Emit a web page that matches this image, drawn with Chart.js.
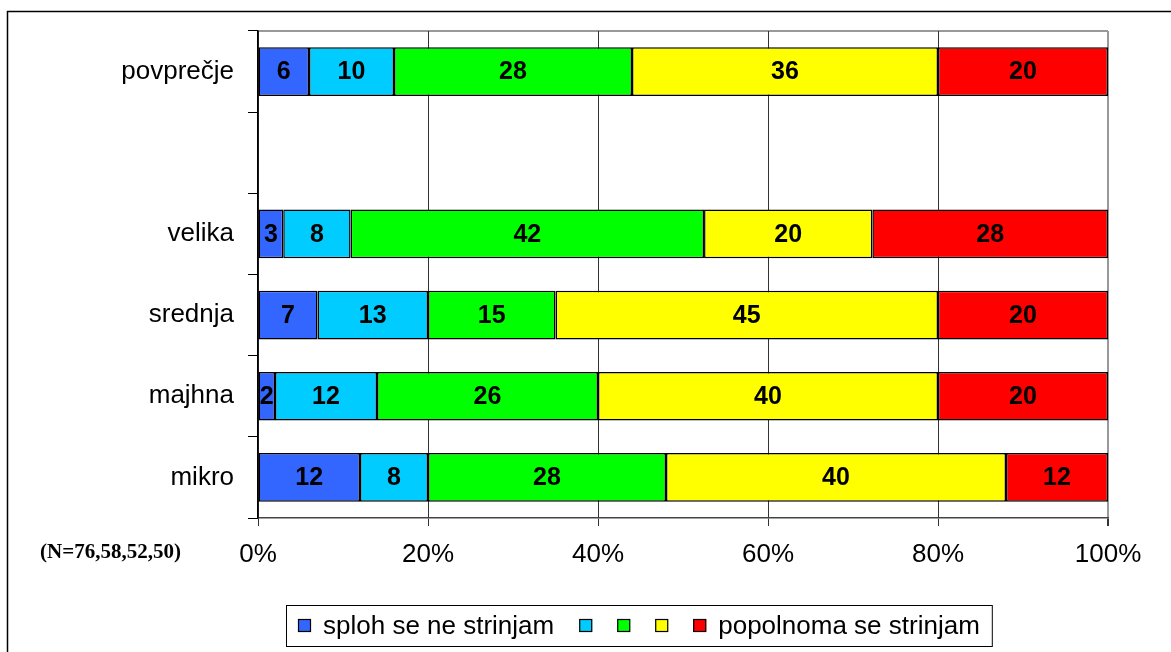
<!DOCTYPE html>
<html>
<head>
<meta charset="utf-8">
<script src="https://cdn.jsdelivr.net/npm/chart.js@4"></script>
<style>
  html, body { margin: 0; padding: 0; background: #fff; }
  #wrap { width: 1171px; height: 652px; }
</style>
</head>
<body>
<div id="wrap"><canvas id="graf" width="1171" height="652"></canvas></div>
<script>
// podatki (odstotki po velikosti podjetja)
const kategorije = ['povprečje', '', 'velika', 'srednja', 'majhna', 'mikro'];
const oznakeSerij = ['sploh se ne strinjam', '', '', '', 'popolnoma se strinjam'];
const barve = ['#3366FF', '#00CCFF', '#00FF00', '#FFFF00', '#FF0000'];
const sploh = [6, null, 3, 7, 2, 12];
const druga = [10, null, 8, 13, 12, 8];
const tretja = [28, null, 42, 15, 26, 28];
const cetrta = [36, null, 20, 45, 40, 40];
const popolnoma = [20, null, 28, 20, 20, 12];
const oznakeX = ['0%', '20%', '40%', '60%', '80%', '100%'];
const opomba = '(N=76,58,52,50)';

const serije = [sploh, druga, tretja, cetrta, popolnoma];
const FONT = "'Liberation Sans', Arial, sans-serif";

// 100 % zlozeni stolpci: vsako vrstico normiramo na vsoto
const vsote = kategorije.map((k, i) => serije.reduce((s, a) => s + (a[i] || 0), 0));
const datasets = serije.map((arr, si) => ({
    label: oznakeSerij[si],
    data: arr.map((v, i) => v == null ? null : v / vsote[i] * 100),
    surove: arr,
    backgroundColor: barve[si],
    borderColor: '#000',
    borderWidth: 1.5,
    borderSkipped: false,
    barPercentage: 0.6,
    categoryPercentage: 1
}));

const okvir = {
    id: 'okvir',
    beforeDraw(chart) {
        const ctx = chart.ctx;
        const a = chart.chartArea;
        ctx.save();
        ctx.fillStyle = '#fff';
        ctx.fillRect(0, 0, chart.width, chart.height);
        // zunanji okvir
        ctx.strokeStyle = '#000';
        ctx.lineWidth = 1.5;
        ctx.beginPath();
        ctx.moveTo(7.5, chart.height + 2);
        ctx.lineTo(7.5, 11.5);
        ctx.lineTo(chart.width + 2, 11.5);
        ctx.stroke();
        // zgornji rob risalne ploskve
        ctx.strokeStyle = '#999';
        ctx.lineWidth = 2;
        ctx.beginPath();
        ctx.moveTo(a.left, a.top);
        ctx.lineTo(a.right, a.top);
        ctx.stroke();
        ctx.restore();
    },
    afterDatasetsDraw(chart) {
        const ctx = chart.ctx;
        ctx.save();
        ctx.font = 'bold 25px ' + FONT;
        ctx.fillStyle = '#000';
        ctx.textAlign = 'center';
        ctx.textBaseline = 'middle';
        chart.data.datasets.forEach((ds, di) => {
            const meta = chart.getDatasetMeta(di);
            meta.data.forEach((el, i) => {
                const v = ds.surove[i];
                if (v == null) return;
                const p = el.getCenterPoint();
                ctx.fillText(String(v), p.x, p.y + 1);
            });
        });
        ctx.restore();
    },
    afterDraw(chart) {
        const ctx = chart.ctx;
        ctx.save();
        // opomba
        ctx.font = 'bold 21px "Liberation Serif", "Times New Roman", serif';
        ctx.fillStyle = '#000';
        ctx.textAlign = 'left';
        ctx.textBaseline = 'middle';
        ctx.fillText(opomba, 40, 553);

        // legenda
        ctx.font = '26px ' + FONT;
        const kv = 13, razmik = 12, presledek = 25, rob = 12;
        let sirina = 0;
        oznakeSerij.forEach((t, i) => {
            sirina += kv;
            if (t) sirina += razmik + ctx.measureText(t).width;
            if (i < oznakeSerij.length - 1) sirina += presledek;
        });
        const lw = sirina + 2 * rob;
        const lx = Math.round(638.5 - lw / 2);
        const ly = 605, lh = 41;
        ctx.strokeStyle = '#000';
        ctx.lineWidth = 1;
        ctx.strokeRect(lx + 0.5, ly + 0.5, lw, lh);
        let x = lx + rob;
        const sy = ly + lh / 2;
        oznakeSerij.forEach((t, i) => {
            ctx.fillStyle = barve[i];
            ctx.fillRect(x, sy - kv / 2, kv, kv);
            ctx.strokeStyle = '#000';
            ctx.lineWidth = 1.2;
            ctx.strokeRect(x + 0.5, sy - kv / 2 + 0.5, kv - 1, kv - 1);
            x += kv;
            if (t) {
                x += razmik;
                ctx.fillStyle = '#000';
                ctx.fillText(t, x, sy + 1);
                x += ctx.measureText(t).width;
            }
            x += presledek;
        });
        ctx.restore();
    }
};

new Chart(document.getElementById('graf'), {
    type: 'bar',
    data: { labels: kategorije, datasets: datasets },
    plugins: [okvir],
    options: {
        indexAxis: 'y',
        responsive: false,
        animation: false,
        layout: { padding: { left: 0, right: 63, top: 31, bottom: 0 } },
        plugins: {
            legend: { display: false },
            tooltip: { enabled: false }
        },
        scales: {
            x: {
                stacked: true,
                min: 0,
                max: 100,
                afterFit(s) { s.height = 134; },
                afterBuildTicks(s) { s.ticks = oznakeX.map((t, i) => ({ value: i * 20 })); },
                ticks: {
                    callback: (v, i) => oznakeX[i],
                    font: { family: FONT, size: 26 },
                    color: '#000',
                    padding: 13,
                    maxRotation: 0
                },
                grid: {
                    color: c => (c.tick && c.tick.value === 100) ? '#999' : '#333',
                    lineWidth: c => (c.tick && c.tick.value === 100) ? 2 : 1,
                    tickColor: '#333',
                    tickLength: 8
                },
                border: { display: true, color: '#444', width: 1.5 }
            },
            y: {
                stacked: true,
                afterFit(s) { s.width = 258; },
                ticks: {
                    font: { family: FONT, size: 26 },
                    color: '#000',
                    padding: 14
                },
                grid: {
                    offset: true,
                    drawOnChartArea: false,
                    color: '#000',
                    tickColor: '#000',
                    tickLength: 10
                },
                border: { display: true, color: '#000', width: 1.5 }
            }
        }
    }
});
</script>
</body>
</html>
